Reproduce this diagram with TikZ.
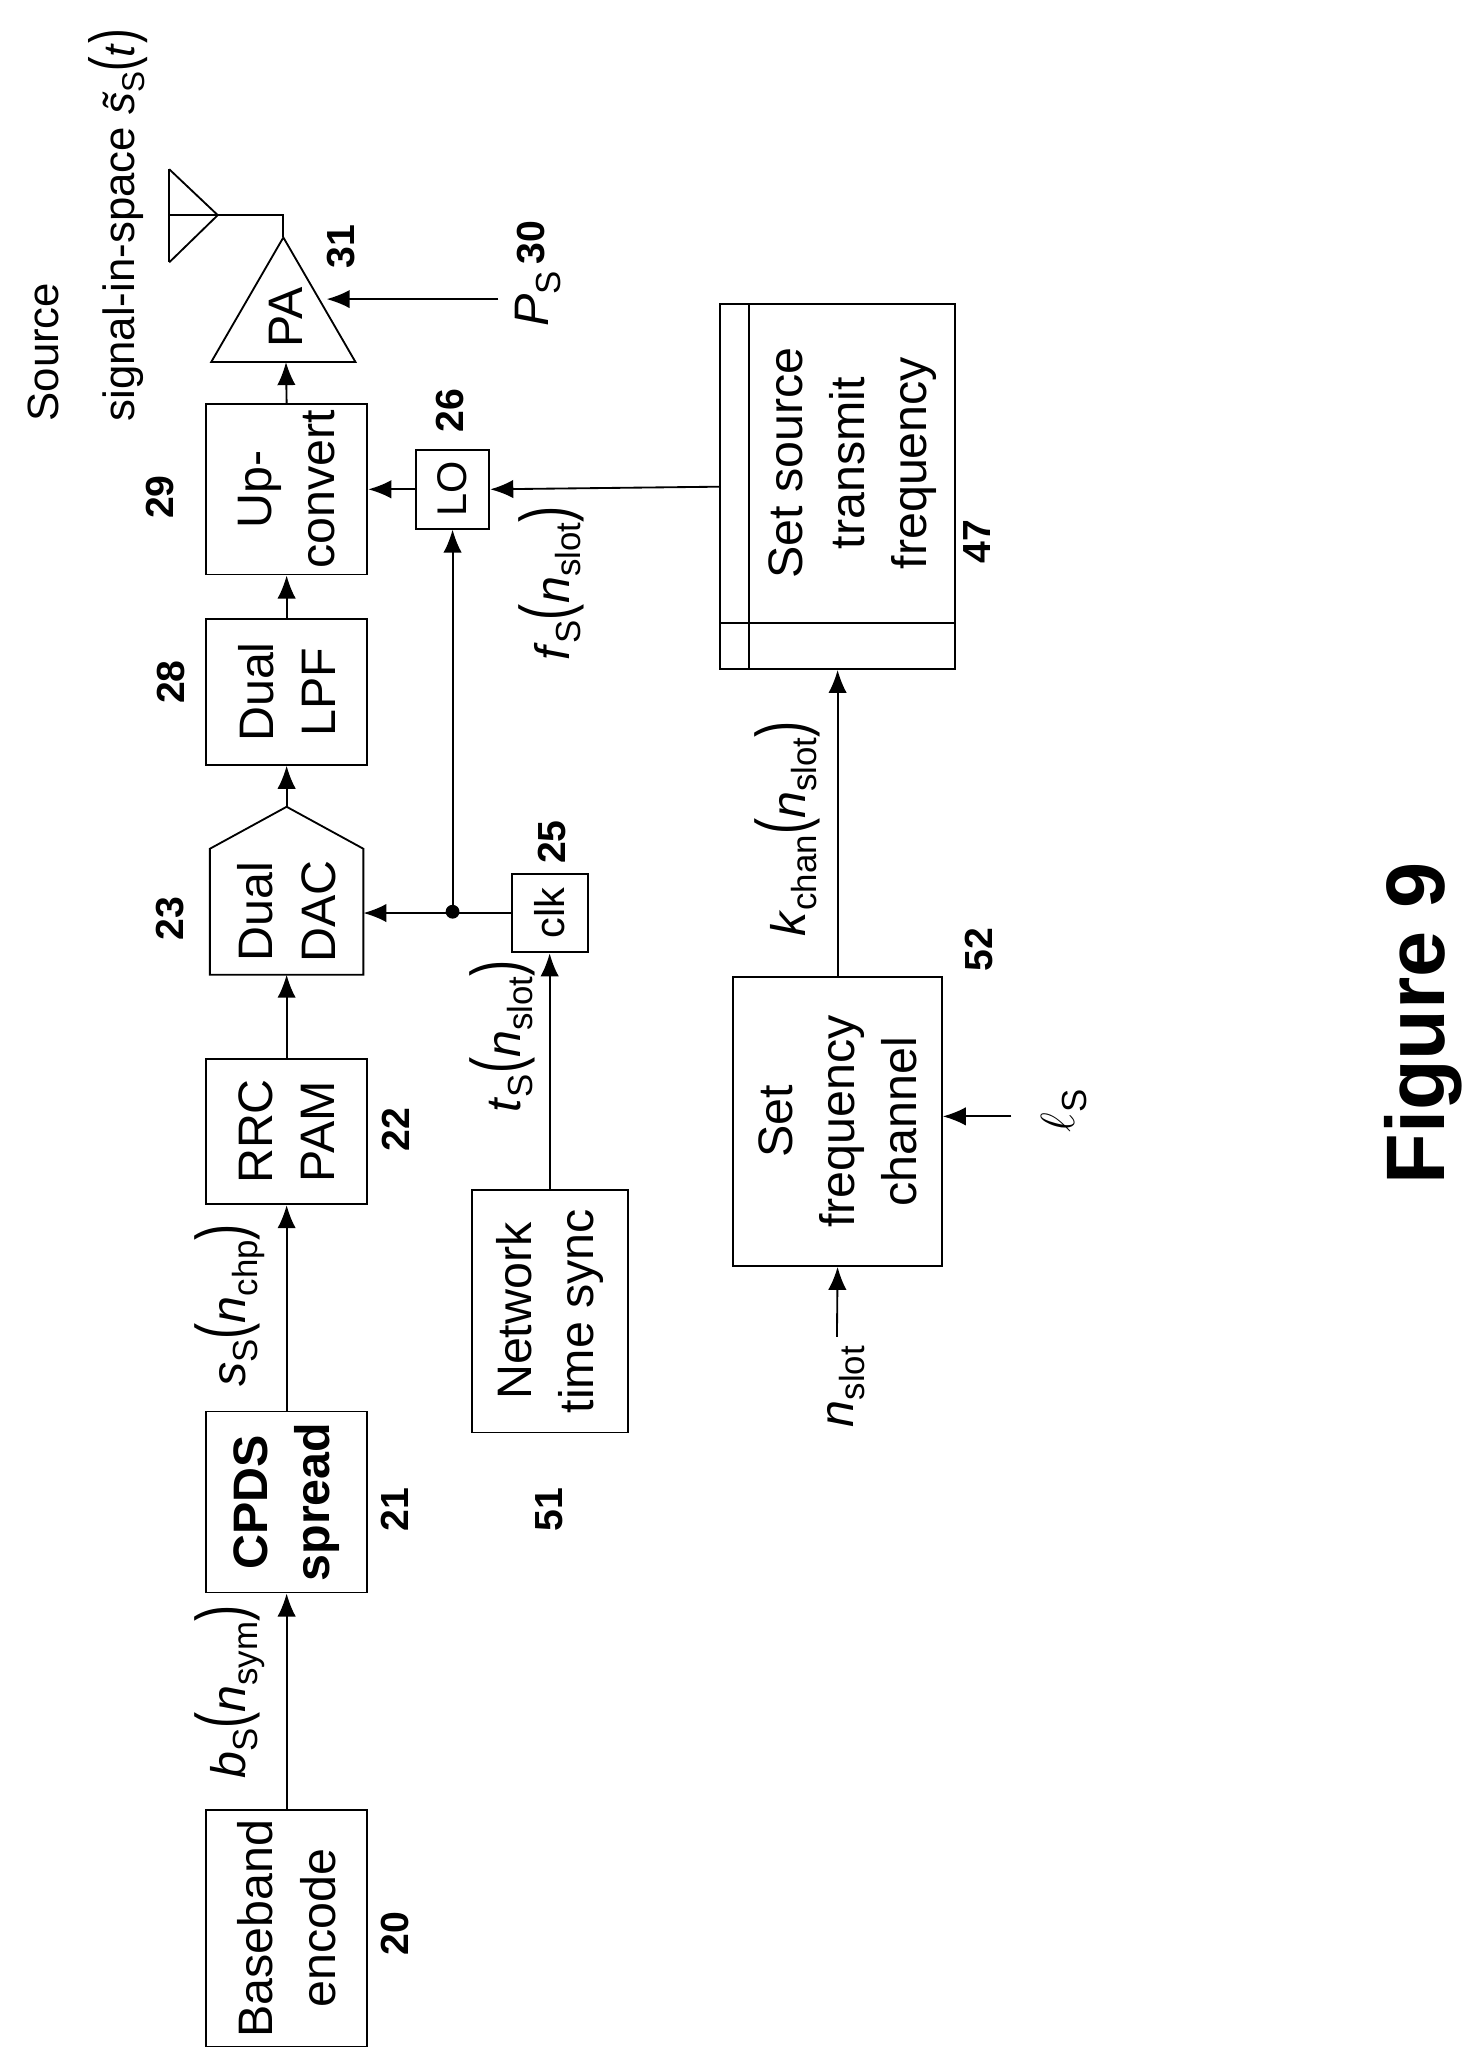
\documentclass[tikz,border=0pt]{standalone}
\usepackage{fontspec}
\setmainfont{Liberation Sans}
\usetikzlibrary{arrows.meta}
\newcommand{\sbx}[1]{\raisebox{-0.45ex}{\scalebox{0.72}{#1}}}
\newcommand{\lp}{\scalebox{1}[1.45]{(}}
\newcommand{\rp}{\scalebox{1}[1.45]{)}}
\begin{document}
\begin{tikzpicture}[x=0.02cm,y=-0.02cm,line width=0.8pt,
  box/.style={draw,rotate=90,align=center,inner sep=0pt,font=\fontsize{21}{27}\selectfont},
  sbox/.style={box,font=\fontsize{18}{20}\selectfont},
  txt/.style={rotate=90,inner sep=0pt,font=\fontsize{21}{27}\selectfont},
  num/.style={rotate=90,inner sep=0pt,font=\fontsize{17}{20}\selectfont\bfseries},
  arr/.style={-{Latex[length=10pt,width=8pt]}}]
\useasboundingbox (0,0) rectangle (1130,1565);
\node[box,minimum width=3.6cm,minimum height=2.46cm] (base) at (218.5,1470) {Baseband\\encode};
\node[box,minimum width=2.76cm,minimum height=2.46cm,font=\fontsize{21}{27}\selectfont\bfseries] (cpds) at (218.5,1145) {CPDS\\spread};
\node[box,minimum width=2.22cm,minimum height=2.46cm] (rrc) at (218.5,862.5) {RRC\\PAM};
\node[txt,minimum width=2.56cm,minimum height=2.34cm,align=center] (dac) at (218.5,695) {Dual\\DAC};
\draw (160,743) -- (160,647) -- (218.5,615) coordinate (dactop) -- (277,647) -- (277,743) -- cycle;
\node[box,minimum width=2.22cm,minimum height=2.46cm] (lpf) at (218.5,527.5) {Dual\\LPF};
\node[box,minimum width=2.6cm,minimum height=2.46cm] (up) at (218.5,373) {Up-\\convert};
% PA and antenna
\draw (161,276) -- (216,181) coordinate (paapex) -- (271,276) -- cycle;
\node[txt] (pa) at (218,242) {PA};
\coordinate (pabase) at (218,276);
\coordinate (pain) at (249,228);
\draw (paapex) -- (216,164) -- (129,164);
\draw (129,129) -- (129,200);
\draw (129,129) -- (166,164) -- (129,200);
% LO, clk
\node[sbox,minimum width=1.2cm,minimum height=1.12cm] (lo) at (345,373) {LO};
\node[sbox,minimum width=1.2cm,minimum height=1.16cm] (clk) at (419,696) {clk};
\fill (345,695) circle (3pt);
\coordinate (dot) at (345,695);
\node[box,minimum width=3.7cm,minimum height=2.38cm] (nts) at (419,999.5) {Network\\time sync};
% set source transmit frequency
\node[draw,minimum width=5.56cm,minimum height=3.58cm,rotate=90,inner sep=0pt] (sst) at (638.5,371) {};
\draw (571,232) -- (571,510);
\draw (549,475) -- (728,475);
\node[txt,align=center] at (650,353) {Set source\\transmit\\frequency};
\node[box,minimum width=4.4cm,minimum height=3.18cm] (sfc) at (638.5,855) {Set\\frequency\\channel};
% connectors
\draw[arr] (base.east) -- (cpds.west);
\draw[arr] (cpds.east) -- (rrc.west);
\draw[arr] (rrc.east) -- (218.5,743);
\draw[arr] (dactop) -- (lpf.west);
\draw[arr] (lpf.east) -- (up.west);
\draw[arr] (up.east) -- (pabase);
\draw[arr] (clk.north) -- (277,696);
\draw[arr] (dot) -- (lo.west);
\draw[arr] (lo.north) -- (up.south);
\draw[arr] (sst.north) -- (lo.south);
\draw[arr] (nts.east) -- (clk.west);
\draw[arr] (sfc.east) -- (sst.west);
\coordinate (ps) at (380,228);
\draw[arr] (ps) -- (pain);
\coordinate (lsin) at (771,851);
\draw[arr] (lsin) -- (sfc.south |- lsin);
\coordinate (nin) at (638,1019);
\draw[arr] (nin) -- (sfc.west);
% labels
\node[txt] at (175,1290) {\textit{b}\sbx{S}\lp\textit{n}\sbx{sym}\rp};
\node[txt] at (175,995) {\textit{s}\sbx{S}\lp\textit{n}\sbx{chp}\rp};
\node[txt] at (383,790) {\textit{t}\sbx{S}\lp\textit{n}\sbx{slot}\rp};
\node[txt] at (420,445) {\textit{f}\sbx{S}\lp\textit{n}\sbx{slot}\rp};
\node[txt] at (600,632) {\textit{k}\sbx{chan}\lp\textit{n}\sbx{slot}\rp};
\node[txt] at (811,847) {$\ell$\sbx{S}};
\node[txt] at (645,1057) {\textit{n}\sbx{slot}};
\node[txt] at (410,228) {\textit{P}\sbx{S}};
\node[num] at (405,185) {30};
\node[txt,anchor=west,font=\fontsize{19}{22}\selectfont] at (33,322) {Source};
\node[txt,anchor=west,font=\fontsize{19}{22}\selectfont] at (90,322) {signal-in-space \textit{\~s}\sbx{S}\lp\textit{t}\rp};
\node[num] at (301,1474) {20};
\node[num] at (301,1151) {21};
\node[num] at (302,861) {22};
\node[num] at (130,700) {23};
\node[num] at (130,520) {28};
\node[num] at (122,379) {29};
\node[num] at (343,313) {26};
\node[num] at (260,188) {31};
\node[num] at (421,642) {25};
\node[num] at (419,1151) {51};
\node[num] at (746,724) {52};
\node[num] at (745,413) {47};
\node[rotate=90,font=\fontsize{36}{40}\selectfont\bfseries] at (1085,780) {Figure 9};
\end{tikzpicture}
\end{document}
